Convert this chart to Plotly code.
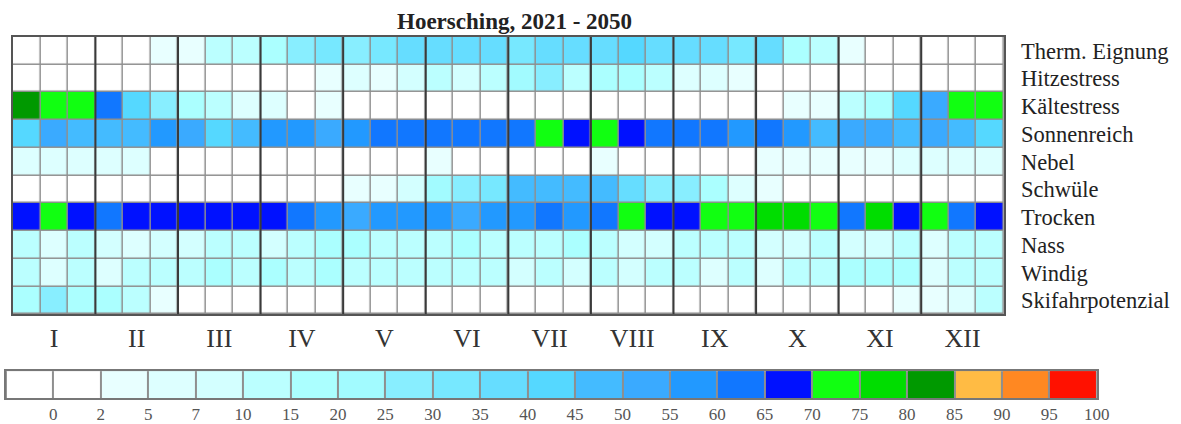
import numpy as np
import plotly.graph_objects as go

W, H = 1181, 424

# Klassengrenzen (%) und Farben der Legende
edges = [-2, 0, 2, 5, 7, 10, 15, 20, 25, 30, 35, 40, 45, 50, 55, 60, 65, 70,
         75, 80, 85, 90, 95, 100]
colors = ["#FFFFFF", "#FFFFFF", "#E8FFFF", "#DDFFFF", "#D3FFFF", "#BBFFFF",
          "#ABFFFF", "#A2FBFF", "#88EEFF", "#77E8FF", "#66DDFF", "#55D8FF",
          "#44BBFF", "#3AAAFF", "#2299FF", "#1177FF", "#0011FF", "#11FF11",
          "#00DD00", "#009900", "#FFBB44", "#FF8822", "#FF1100"]
edge_labels = [str(e) for e in edges[1:]]

months = ["I", "II", "III", "IV", "V", "VI", "VII", "VIII", "IX", "X", "XI", "XII"]
rows = ["Therm. Eignung", "Hitzestress", "Kältestress", "Sonnenreich", "Nebel",
        "Schwüle", "Trocken", "Nass", "Windig", "Skifahrpotenzial"]

# Häufigkeiten (%) je Dekade (3 Dekaden je Monat)
therm = [1, 1, 1, 1, 1, 3, 3, 12, 12, 17, 27, 32, 27, 32, 37, 37, 37, 37,
         32, 37, 37, 37, 42, 37, 37, 37, 32, 37, 17, 12, 3, 1, 1, 1, 1, 1]
hitze = [1, 1, 1, 1, 1, 1, 1, 1, 1, 1, 1, 3, 6, 3, 8, 12, 8, 12,
         22, 27, 12, 17, 17, 12, 6, 6, 3, 1, 1, 1, 1, 1, 1, 1, 1, 1]
kaelte = [82, 72, 72, 62, 42, 27, 17, 12, 6, 6, 1, 3, 1, 1, 1, 1, 1, 1,
          1, 1, 1, 1, 1, 1, 1, 1, 1, 1, 3, 3, 12, 17, 42, 52, 72, 72]
sonne = [42, 52, 47, 47, 47, 57, 52, 42, 47, 57, 57, 52, 57, 62, 62, 62, 62, 62,
         62, 72, 67, 72, 67, 62, 62, 62, 57, 62, 57, 47, 52, 52, 47, 52, 47, 42]
nebel = [6, 6, 6, 6, 6, 1, 1, 1, 1, 1, 1, 1, 1, 1, 1, 3, 1, 1,
         1, 1, 1, 3, 1, 1, 1, 1, 1, 3, 3, 3, 3, 3, 6, 6, 6, 6]
schwuele = [1, 1, 1, 1, 1, 1, 1, 1, 1, 1, 1, 1, 3, 3, 8, 22, 27, 32,
            47, 47, 47, 47, 37, 27, 27, 17, 6, 3, 1, 1, 1, 1, 1, 1, 1, 1]
trocken = [67, 72, 67, 62, 67, 67, 67, 67, 67, 67, 62, 57, 52, 57, 57, 57, 52, 57,
           57, 62, 57, 62, 72, 67, 67, 72, 72, 77, 77, 72, 62, 77, 67, 72, 62, 67]
nass = [12, 6, 12, 8, 6, 8, 8, 12, 12, 8, 12, 17, 17, 12, 12, 12, 17, 12,
        12, 12, 17, 12, 8, 8, 12, 12, 12, 8, 8, 12, 8, 8, 12, 6, 12, 12]
windig = [12, 6, 12, 6, 12, 12, 12, 17, 12, 17, 12, 17, 12, 12, 12, 12, 12, 12,
          8, 12, 8, 12, 8, 12, 12, 6, 12, 6, 12, 12, 17, 17, 17, 6, 12, 12]
ski = [17, 27, 17, 17, 12, 3, 1, 1, 1, 1, 1, 1, 1, 1, 1, 1, 1, 1,
       1, 1, 1, 1, 1, 1, 1, 1, 1, 1, 1, 1, 1, 1, 3, 3, 6, 12]

z = np.array([therm, hitze, kaelte, sonne, nebel, schwuele, trocken, nass, windig, ski])
n_rows, n_cols = z.shape

# Stufen-Farbskala über die Klassengrenzen
zmin, zmax = edges[0], edges[-1]
colorscale = []
for lo, hi, c in zip(edges[:-1], edges[1:], colors):
    colorscale.append([(lo - zmin) / (zmax - zmin), c])
    colorscale.append([(hi - zmin) / (zmax - zmin), c])

legend_z = [[(lo + hi) / 2 for lo, hi in zip(edges[:-1], edges[1:])]]

serif = "Liberation Serif, Times New Roman, serif"

fig = go.Figure()
fig.add_trace(go.Heatmap(
    z=z, x=list(range(n_cols)), y=list(range(n_rows)),
    zmin=zmin, zmax=zmax, colorscale=colorscale, showscale=False,
    xgap=1.5, ygap=1.5, xaxis="x", yaxis="y",
    customdata=np.array(rows)[:, None].repeat(n_cols, axis=1),
    hovertemplate="%{customdata}: %{z}%<extra></extra>",
))
fig.add_trace(go.Heatmap(
    z=legend_z, x=list(range(len(colors))), y=[0],
    zmin=zmin, zmax=zmax, colorscale=colorscale, showscale=False,
    xgap=2, ygap=0, xaxis="x2", yaxis="y2", hoverinfo="skip",
))

# Monatsgrenzen kräftiger
for m in range(1, len(months)):
    xb = 3 * m - 0.5
    fig.add_shape(type="line", xref="x", yref="y", x0=xb, x1=xb,
                  y0=-0.5, y1=n_rows - 0.5,
                  line=dict(color="#3a3a3a", width=2), layer="above")

fig.add_annotation(
    text="Hoersching, 2021 - 2050", xref="paper", yref="paper",
    x=520 / W, y=1 - 22 / H, showarrow=False, xanchor="center", yanchor="middle",
    font=dict(family=serif, size=23, color="#222222", weight="bold"),
)

fig.update_layout(
    width=W, height=H, margin=dict(l=0, r=0, t=0, b=0),
    paper_bgcolor="white", plot_bgcolor="#8f8f8f", showlegend=False,
    xaxis=dict(domain=[13 / W, 1015 / W], range=[-0.5, n_cols - 0.5],
               tickvals=[3 * i + 1 for i in range(len(months))], ticktext=months,
               ticks="", showgrid=False, zeroline=False,
               showline=True, mirror=True, linecolor="#555555", linewidth=1.5,
               tickfont=dict(family=serif, size=26, color="#333333"),
               ticklabelstandoff=0, anchor="y"),
    yaxis=dict(domain=[1 - 315 / H, 1 - 37 / H], range=[n_rows - 0.5, -0.5],
               tickvals=list(range(n_rows)), ticktext=rows, side="right",
               ticks="", showgrid=False, zeroline=False,
               showline=True, mirror=True, linecolor="#555555", linewidth=1.5,
               tickfont=dict(family=serif, size=22.5, color="#222222"),
               ticklabelstandoff=11, anchor="x"),
    xaxis2=dict(domain=[6 / W, 1109 / W], range=[-0.5, len(colors) - 0.5],
                tickvals=[i + 0.5 for i in range(len(colors))], ticktext=edge_labels,
                ticks="", showgrid=False, zeroline=False,
                showline=True, mirror=True, linecolor="#777777", linewidth=1.5,
                tickfont=dict(family=serif, size=17, color="#555555"),
                anchor="y2"),
    yaxis2=dict(domain=[1 - 399 / H, 1 - 372 / H], range=[-0.5, 0.5],
                showticklabels=False, ticks="", showgrid=False, zeroline=False,
                showline=True, mirror=True, linecolor="#777777", linewidth=1.5,
                anchor="x2"),
)

fig.write_html("out.html")
